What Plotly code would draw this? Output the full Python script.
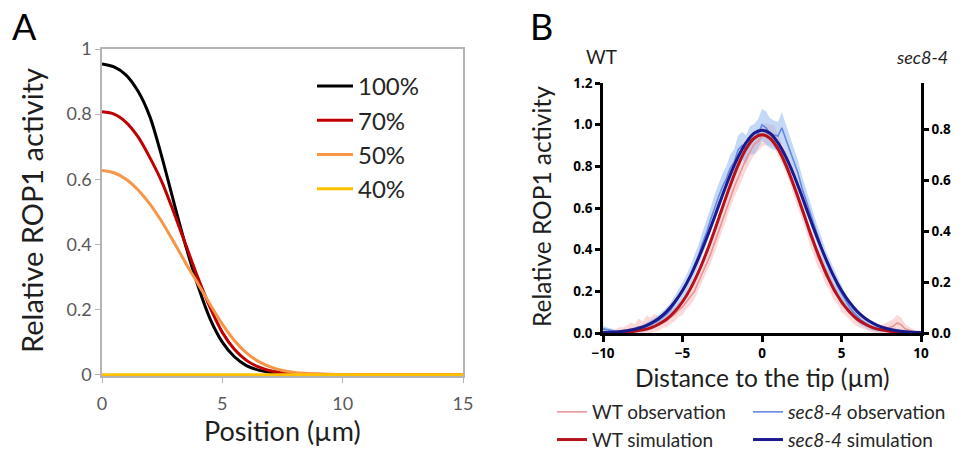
import numpy as np
import plotly.graph_objects as go

# ---------------- Panel A data ----------------
pos_a = [0, 0.5, 1, 1.5, 2, 2.5, 3, 3.5, 4, 4.5, 5, 5.5, 6, 6.5, 7, 7.5, 8, 9, 10, 12, 15]
act_100 = [0.954, 0.945, 0.920, 0.870, 0.790, 0.665, 0.525, 0.390, 0.270, 0.170, 0.100,
           0.055, 0.028, 0.014, 0.007, 0.003, 0.001, 0, 0, 0, 0]
act_70 = [0.807, 0.800, 0.775, 0.730, 0.665, 0.590, 0.495, 0.395, 0.295, 0.205, 0.130,
          0.078, 0.044, 0.024, 0.012, 0.006, 0.003, 0.001, 0, 0, 0]
act_50 = [0.627, 0.620, 0.600, 0.567, 0.523, 0.468, 0.405, 0.340, 0.278, 0.215, 0.155,
          0.105, 0.067, 0.041, 0.024, 0.013, 0.007, 0.002, 0.0005, 0, 0]
act_40 = [0, 0, 0, 0, 0, 0, 0, 0, 0, 0, 0, 0, 0, 0, 0, 0, 0, 0, 0, 0, 0]
series_a = ["100%", "70%", "50%", "40%"]
colors_a = ["#000000", "#C00000", "#F79646", "#FFC000"]
yticks_a = [0, 0.2, 0.4, 0.6, 0.8, 1]
yticktext_a = ["0", "0.2", "0.4", "0.6", "0.8", "1"]
xticks_a = [0, 5, 10, 15]

# ---------------- Panel B data ----------------
dist_obs = list(np.round(np.arange(-10, 10.001, 0.25), 2))
wt_obs = [0.005, 0.003, 0.008, 0.004, 0.010, 0.006, 0.012, 0.020, 0.015,
          0.030, 0.022, 0.040, 0.035, 0.050, 0.045, 0.055, 0.060,
          0.075, 0.090, 0.110, 0.125, 0.150, 0.175, 0.200, 0.245,
          0.285, 0.330, 0.375, 0.430, 0.480, 0.540, 0.585, 0.645,
          0.700, 0.745, 0.790, 0.835, 0.870, 0.905, 0.920, 0.945,
          0.955, 0.950, 0.945, 0.905, 0.865, 0.820, 0.770, 0.705,
          0.655, 0.590, 0.540, 0.470, 0.425, 0.365, 0.330, 0.275,
          0.250, 0.200, 0.180, 0.140, 0.120, 0.095, 0.080, 0.060,
          0.050, 0.038, 0.030, 0.022, 0.018, 0.015, 0.020, 0.025,
          0.032, 0.048, 0.040, 0.020, 0.012, 0.006, 0.004, 0.003]
wt_sd = [0.010, 0.012, 0.015, 0.012, 0.018, 0.020, 0.025, 0.030, 0.028,
         0.040, 0.035, 0.045, 0.038, 0.042, 0.035, 0.030, 0.032,
         0.030, 0.035, 0.032, 0.038, 0.035, 0.040, 0.038, 0.042,
         0.040, 0.045, 0.042, 0.048, 0.045, 0.050, 0.046, 0.050,
         0.048, 0.052, 0.050, 0.055, 0.050, 0.052, 0.048, 0.050,
         0.052, 0.050, 0.055, 0.050, 0.048, 0.052, 0.050, 0.048,
         0.050, 0.046, 0.048, 0.045, 0.050, 0.046, 0.044, 0.042,
         0.045, 0.040, 0.042, 0.038, 0.035, 0.032, 0.035, 0.030,
         0.028, 0.025, 0.022, 0.020, 0.022, 0.025, 0.028, 0.030,
         0.035, 0.040, 0.035, 0.025, 0.018, 0.012, 0.010, 0.008]
sec_obs = [0.020, 0.015, 0.010, 0.008, 0.005, 0.006, 0.008, 0.010, 0.015,
           0.018, 0.022, 0.030, 0.040, 0.048, 0.060, 0.075, 0.090,
           0.110, 0.140, 0.165, 0.200, 0.235, 0.275, 0.325, 0.370,
           0.430, 0.480, 0.540, 0.600, 0.650, 0.700, 0.740, 0.790,
           0.820, 0.880, 0.900, 0.880, 0.925, 0.930, 0.955, 1.000,
           0.985, 0.960, 0.950, 0.945, 0.985, 0.930, 0.880, 0.820,
           0.770, 0.700, 0.640, 0.580, 0.520, 0.460, 0.410, 0.355,
           0.310, 0.270, 0.225, 0.190, 0.155, 0.125, 0.100, 0.080,
           0.060, 0.048, 0.035, 0.028, 0.022, 0.018, 0.020, 0.015,
           0.012, 0.010, 0.008, 0.006, 0.005, 0.004, 0.003, 0.002]
sec_sd = [0.015, 0.012, 0.010, 0.008, 0.008, 0.010, 0.010, 0.012, 0.015,
          0.015, 0.018, 0.020, 0.022, 0.025, 0.028, 0.030, 0.032,
          0.035, 0.038, 0.040, 0.042, 0.045, 0.048, 0.050, 0.052,
          0.055, 0.058, 0.055, 0.060, 0.058, 0.062, 0.060, 0.065,
          0.062, 0.068, 0.065, 0.070, 0.068, 0.072, 0.070, 0.075,
          0.080, 0.072, 0.070, 0.068, 0.075, 0.070, 0.065, 0.062,
          0.060, 0.058, 0.055, 0.055, 0.052, 0.050, 0.048, 0.045,
          0.045, 0.042, 0.040, 0.038, 0.035, 0.032, 0.030, 0.028,
          0.025, 0.022, 0.020, 0.018, 0.015, 0.015, 0.012, 0.012,
          0.010, 0.010, 0.008, 0.008, 0.008, 0.006, 0.006, 0.005]

dist_sim = list(np.round(np.arange(-10, 10.001, 0.5), 2))
wt_sim = [0.001, 0.001, 0.002, 0.005, 0.008, 0.015, 0.025, 0.042, 0.066, 0.102,
          0.150, 0.213, 0.292, 0.385, 0.489, 0.600, 0.708, 0.806, 0.884, 0.935,
          0.952,
          0.935, 0.884, 0.806, 0.708, 0.600, 0.489, 0.385, 0.292, 0.213, 0.150,
          0.102, 0.066, 0.042, 0.025, 0.015, 0.008, 0.005, 0.002, 0.001, 0.001]
# sec8-4 simulation, read against the right-hand axis
sec_sim = [0.002, 0.003, 0.005, 0.009, 0.015, 0.024, 0.038, 0.057, 0.084, 0.121,
           0.167, 0.225, 0.294, 0.371, 0.454, 0.540, 0.622, 0.693, 0.749, 0.786,
           0.798,
           0.786, 0.749, 0.693, 0.622, 0.540, 0.454, 0.371, 0.294, 0.225, 0.167,
           0.121, 0.084, 0.057, 0.038, 0.024, 0.015, 0.009, 0.005, 0.003, 0.002]
xticks_b = [-10, -5, 0, 5, 10]
yticks_b_left = [0, 0.2, 0.4, 0.6, 0.8, 1.0, 1.2]
yticks_b_right = [0, 0.2, 0.4, 0.6, 0.8]

W, H = 961, 451


def px(x):
    return x / W


def py(y):
    return 1 - y / H


fig = go.Figure()

# Panel A traces
for name, ys, col in zip(series_a, [act_100, act_70, act_50, act_40], colors_a):
    fig.add_trace(go.Scatter(x=pos_a, y=ys, name=name, mode="lines",
                             line=dict(color=col, width=3, shape="spline", smoothing=0.8),
                             xaxis="x", yaxis="y", legend="legend"))

# Panel B bands
wt_lo = np.clip(np.array(wt_obs) - np.array(wt_sd), 0, None)
wt_hi = np.array(wt_obs) + np.array(wt_sd)
sec_lo = np.clip(np.array(sec_obs) - np.array(sec_sd), 0, None)
sec_hi = np.array(sec_obs) + np.array(sec_sd)

fig.add_trace(go.Scatter(x=dist_obs, y=wt_lo, mode="lines", line=dict(width=0),
                         showlegend=False, hoverinfo="skip", xaxis="x2", yaxis="y2"))
fig.add_trace(go.Scatter(x=dist_obs, y=wt_hi, mode="lines", line=dict(width=0),
                         fill="tonexty", fillcolor="rgba(246,170,170,0.45)",
                         showlegend=False, hoverinfo="skip", xaxis="x2", yaxis="y2"))
fig.add_trace(go.Scatter(x=dist_obs, y=sec_lo, mode="lines", line=dict(width=0),
                         showlegend=False, hoverinfo="skip", xaxis="x2", yaxis="y2"))
fig.add_trace(go.Scatter(x=dist_obs, y=sec_hi, mode="lines", line=dict(width=0),
                         fill="tonexty", fillcolor="rgba(140,180,240,0.5)",
                         showlegend=False, hoverinfo="skip", xaxis="x2", yaxis="y2"))

# observation lines
fig.add_trace(go.Scatter(x=dist_obs, y=wt_obs, name="WT observation", mode="lines",
                         line=dict(color="#E8959A", width=1.6),
                         xaxis="x2", yaxis="y2", legend="legend2"))
fig.add_trace(go.Scatter(x=dist_obs, y=sec_obs, name="<i>sec8-4</i> observation", mode="lines",
                         line=dict(color="#6487E0", width=1.6),
                         xaxis="x2", yaxis="y2", legend="legend3"))
# simulation lines
fig.add_trace(go.Scatter(x=dist_sim, y=sec_sim, name="<i>sec8-4</i> simulation", mode="lines",
                         line=dict(color="#1A1A8C", width=3, shape="spline"),
                         xaxis="x2", yaxis="y3", legend="legend3"))
fig.add_trace(go.Scatter(x=dist_sim, y=wt_sim, name="WT simulation", mode="lines",
                         line=dict(color="#B5121B", width=3, shape="spline"),
                         xaxis="x2", yaxis="y2", legend="legend2"))

gray = "#B4B4B4"
fA = dict(family="Lato, Open Sans, sans-serif", size=18, color="#595959")
fB = dict(family="Open Sans, Lato, sans-serif", size=13.5, color="#000000", weight="bold")

fig.update_layout(
    width=W, height=H, margin=dict(l=0, r=0, t=0, b=0, autoexpand=False),
    paper_bgcolor="white", plot_bgcolor="white",
    xaxis=dict(domain=[px(102), px(463)], range=[0, 15], tickvals=xticks_a,
               ticks="outside", ticklen=5, tickcolor=gray, tickwidth=1,
               showline=True, linecolor=gray, linewidth=1.5, mirror=True,
               showgrid=False, zeroline=False, tickfont=fA, ticklabelstandoff=6,
               anchor="y", automargin=False),
    yaxis=dict(domain=[py(376), py(49)], range=[-0.004, 1], tickvals=yticks_a,
               ticktext=yticktext_a,
               ticks="outside", ticklen=5, tickcolor=gray, tickwidth=1,
               showline=True, linecolor=gray, linewidth=1.5, mirror=True,
               showgrid=False, zeroline=False, tickfont=fA, anchor="x", automargin=False),
    xaxis2=dict(domain=[px(603), px(921)], range=[-10, 10], tickvals=xticks_b,
                ticks="outside", ticklen=6, tickwidth=2.5, tickcolor="black",
                showline=True, linecolor="black", linewidth=2.5,
                showgrid=False, zeroline=False, tickfont=fB, anchor="y2",
                ticklabelstandoff=0, automargin=False),
    yaxis2=dict(domain=[py(333), py(83)], range=[0, 1.2], tickvals=yticks_b_left,
                tickformat=".1f", ticks="outside", ticklen=5, tickwidth=2.5,
                tickcolor="black", showline=True, linecolor="black", linewidth=2.5,
                showgrid=False, zeroline=False, tickfont=fB, anchor="x2", automargin=False),
    yaxis3=dict(overlaying="y2", side="right", range=[0, 0.984], tickvals=yticks_b_right,
                tickformat=".1f", ticks="outside", ticklen=5, tickwidth=2.5,
                tickcolor="black", showline=True, linecolor="black", linewidth=2.5,
                showgrid=False, zeroline=False, tickfont=fB, anchor="x2", automargin=False),
    legend=dict(x=px(312), y=py(64), xanchor="left", yanchor="top", traceorder="normal",
                font=dict(family="Lato, sans-serif", size=24, color="#262626"),
                bgcolor="rgba(0,0,0,0)", itemwidth=36, tracegroupgap=0),
    legend2=dict(x=px(552), y=py(393), xanchor="left", yanchor="top", traceorder="normal",
                 font=dict(family="Lato, sans-serif", size=19, color="#262626"),
                 bgcolor="rgba(0,0,0,0)", itemwidth=30),
    legend3=dict(x=px(748), y=py(393), xanchor="left", yanchor="top", traceorder="normal",
                 font=dict(family="Lato, sans-serif", size=19, color="#262626"),
                 bgcolor="rgba(0,0,0,0)", itemwidth=30),
)

tcol = "#1E1E1E"
ann = [
    dict(text="A", x=px(24), y=py(26), font=dict(family="Lato, sans-serif", size=36, color="black")),
    dict(text="B", x=px(541), y=py(26), font=dict(family="Lato, sans-serif", size=36, color="black")),
    dict(text="Relative ROP1 activity", x=px(32), y=py(211), textangle=-90,
         font=dict(family="Lato, sans-serif", size=29, color=tcol)),
    dict(text="Position (µm)", x=px(282), y=py(430),
         font=dict(family="Lato, sans-serif", size=27, color=tcol)),
    dict(text="Relative ROP1 activity", x=px(541), y=py(207), textangle=-90,
         font=dict(family="Lato, sans-serif", size=24.5, color=tcol)),
    dict(text="Distance to the tip (µm)", x=px(762), y=py(377),
         font=dict(family="Lato, sans-serif", size=24.5, color=tcol)),
    dict(text="WT", x=px(601), y=py(57),
         font=dict(family="Lato, sans-serif", size=19, color=tcol)),
    dict(text="<i>sec8-4</i>", x=px(950), y=py(57), xanchor="right",
         font=dict(family="Lato, sans-serif", size=18, color=tcol)),
]
for a in ann:
    a.setdefault("xanchor", "center")
    a.update(xref="paper", yref="paper", yanchor="middle", showarrow=False)
fig.update_layout(annotations=ann)

fig.write_html("out.html")
